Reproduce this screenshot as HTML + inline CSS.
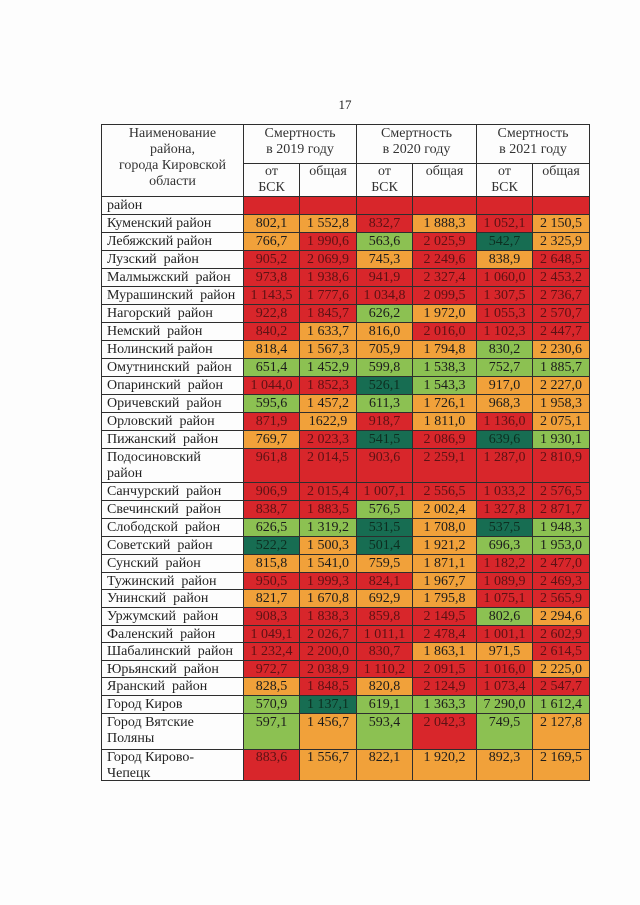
<!DOCTYPE html>
<html><head><meta charset="utf-8">
<style>
html,body{margin:0;padding:0;}
body{width:640px;height:905px;background:#fdfdfd;position:relative;overflow:hidden;font-family:"Liberation Serif","Noto Serif CJK SC",serif;}
.pn{position:absolute;left:0;width:690px;top:97px;text-align:center;font-size:13px;color:#222;}
.t{position:absolute;left:101px;top:124px;padding:1px;display:grid;gap:1px;background:#2e2e2e;
grid-template-columns:141px 55px 56px 55px 63px 55px 56px;
grid-template-rows:38px 32px repeat(14,17px) 33px repeat(5,17px) 16px 17px 17px 16px 17px 16px 17px 17px 35px 30px;}
.t>div{font-size:14px;line-height:17px;text-align:center;white-space:nowrap;color:#1c1c1c;overflow:hidden;}
.h{background:#fdfdfd;line-height:16px!important;padding-top:1px;color:#333!important;}
.h1{grid-row:span 2;}
.h2{grid-column:span 2;}
.s{background:#fdfdfd;line-height:16px!important;color:#333!important;}
.l{background:#fdfdfd;text-align:left!important;padding-left:5px;color:#222!important;}
.m{line-height:16px!important;padding-top:1px;white-space:normal!important;}
.r{background:#d8262b;color:#5c1214!important;}
.o{background:#f1a13a;}
.g{background:#8cc152;}
.d{background:#176d52;color:#0d2e20!important;}
</style></head><body>
<div class="pn">17</div>
<div class="t">
<div class="h h1">Наименование<br>района,<br>города Кировской<br>области</div>
<div class="h h2">Смертность<br>в 2019 году</div>
<div class="h h2">Смертность<br>в 2020 году</div>
<div class="h h2">Смертность<br>в 2021 году</div>
<div class="s">от<br>БСК</div><div class="s">общая</div>
<div class="s">от<br>БСК</div><div class="s">общая</div>
<div class="s">от<br>БСК</div><div class="s">общая</div>

<div class="l">район</div><div class="r"></div><div class="r"></div><div class="r"></div><div class="r"></div><div class="r"></div><div class="r"></div>
<div class="l">Куменский район</div><div class="o">802,1</div><div class="o">1 552,8</div><div class="r">832,7</div><div class="o">1 888,3</div><div class="r">1 052,1</div><div class="o">2 150,5</div>
<div class="l">Лебяжский район</div><div class="o">766,7</div><div class="r">1 990,6</div><div class="g">563,6</div><div class="r">2 025,9</div><div class="d">542,7</div><div class="o">2 325,9</div>
<div class="l">Лузский&nbsp; район</div><div class="r">905,2</div><div class="r">2 069,9</div><div class="o">745,3</div><div class="r">2 249,6</div><div class="o">838,9</div><div class="r">2 648,5</div>
<div class="l">Малмыжский&nbsp; район</div><div class="r">973,8</div><div class="r">1 938,6</div><div class="r">941,9</div><div class="r">2 327,4</div><div class="r">1 060,0</div><div class="r">2 453,2</div>
<div class="l">Мурашинский&nbsp; район</div><div class="r">1 143,5</div><div class="r">1 777,6</div><div class="r">1 034,8</div><div class="r">2 099,5</div><div class="r">1 307,5</div><div class="r">2 736,7</div>
<div class="l">Нагорский&nbsp; район</div><div class="r">922,8</div><div class="r">1 845,7</div><div class="g">626,2</div><div class="o">1 972,0</div><div class="r">1 055,3</div><div class="r">2 570,7</div>
<div class="l">Немский&nbsp; район</div><div class="r">840,2</div><div class="o">1 633,7</div><div class="o">816,0</div><div class="r">2 016,0</div><div class="r">1 102,3</div><div class="r">2 447,7</div>
<div class="l">Нолинский район</div><div class="o">818,4</div><div class="o">1 567,3</div><div class="o">705,9</div><div class="o">1 794,8</div><div class="g">830,2</div><div class="o">2 230,6</div>
<div class="l">Омутнинский&nbsp; район</div><div class="g">651,4</div><div class="g">1 452,9</div><div class="g">599,8</div><div class="g">1 538,3</div><div class="g">752,7</div><div class="g">1 885,7</div>
<div class="l">Опаринский&nbsp; район</div><div class="r">1 044,0</div><div class="r">1 852,3</div><div class="d">526,1</div><div class="g">1 543,3</div><div class="o">917,0</div><div class="o">2 227,0</div>
<div class="l">Оричевский&nbsp; район</div><div class="g">595,6</div><div class="o">1 457,2</div><div class="g">611,3</div><div class="o">1 726,1</div><div class="o">968,3</div><div class="o">1 958,3</div>
<div class="l">Орловский&nbsp; район</div><div class="r">871,9</div><div class="o">1622,9</div><div class="r">918,7</div><div class="o">1 811,0</div><div class="r">1 136,0</div><div class="o">2 075,1</div>
<div class="l">Пижанский&nbsp; район</div><div class="o">769,7</div><div class="r">2 023,3</div><div class="d">541,5</div><div class="r">2 086,9</div><div class="d">639,6</div><div class="g">1 930,1</div>
<div class="l m">Подосиновский<br>район</div><div class="r m">961,8</div><div class="r m">2 014,5</div><div class="r m">903,6</div><div class="r m">2 259,1</div><div class="r m">1 287,0</div><div class="r m">2 810,9</div>
<div class="l">Санчурский&nbsp; район</div><div class="r">906,9</div><div class="r">2 015,4</div><div class="r">1 007,1</div><div class="r">2 556,5</div><div class="r">1 033,2</div><div class="r">2 576,5</div>
<div class="l">Свечинский&nbsp; район</div><div class="r">838,7</div><div class="r">1 883,5</div><div class="g">576,5</div><div class="o">2 002,4</div><div class="r">1 327,8</div><div class="r">2 871,7</div>
<div class="l">Слободской&nbsp; район</div><div class="g">626,5</div><div class="g">1 319,2</div><div class="d">531,5</div><div class="o">1 708,0</div><div class="d">537,5</div><div class="g">1 948,3</div>
<div class="l">Советский&nbsp; район</div><div class="d">522,2</div><div class="o">1 500,3</div><div class="d">501,4</div><div class="o">1 921,2</div><div class="g">696,3</div><div class="g">1 953,0</div>
<div class="l">Сунский&nbsp; район</div><div class="o">815,8</div><div class="o">1 541,0</div><div class="o">759,5</div><div class="o">1 871,1</div><div class="r">1 182,2</div><div class="r">2 477,0</div>
<div class="l">Тужинский&nbsp; район</div><div class="r">950,5</div><div class="r">1 999,3</div><div class="r">824,1</div><div class="o">1 967,7</div><div class="r">1 089,9</div><div class="r">2 469,3</div>
<div class="l">Унинский&nbsp; район</div><div class="o">821,7</div><div class="o">1 670,8</div><div class="o">692,9</div><div class="o">1 795,8</div><div class="r">1 075,1</div><div class="r">2 565,9</div>
<div class="l">Уржумский&nbsp; район</div><div class="r">908,3</div><div class="r">1 838,3</div><div class="r">859,8</div><div class="r">2 149,5</div><div class="g">802,6</div><div class="o">2 294,6</div>
<div class="l">Фаленский&nbsp; район</div><div class="r">1 049,1</div><div class="r">2 026,7</div><div class="r">1 011,1</div><div class="r">2 478,4</div><div class="r">1 001,1</div><div class="r">2 602,9</div>
<div class="l">Шабалинский&nbsp; район</div><div class="r">1 232,4</div><div class="r">2 200,0</div><div class="r">830,7</div><div class="o">1 863,1</div><div class="o">971,5</div><div class="r">2 614,5</div>
<div class="l">Юрьянский&nbsp; район</div><div class="r">972,7</div><div class="r">2 038,9</div><div class="r">1 110,2</div><div class="r">2 091,5</div><div class="r">1 016,0</div><div class="o">2 225,0</div>
<div class="l">Яранский&nbsp; район</div><div class="o">828,5</div><div class="r">1 848,5</div><div class="o">820,8</div><div class="r">2 124,9</div><div class="r">1 073,4</div><div class="r">2 547,7</div>
<div class="l">Город Киров</div><div class="g">570,9</div><div class="d">1 137,1</div><div class="g">619,1</div><div class="g">1 363,3</div><div class="g">7 290,0</div><div class="g">1 612,4</div>
<div class="l m">Город Вятские<br>Поляны</div><div class="g m">597,1</div><div class="o m">1 456,7</div><div class="g m">593,4</div><div class="r m">2 042,3</div><div class="g m">749,5</div><div class="o m">2 127,8</div>
<div class="l m" style="padding-top:0">Город Кирово-<br>Чепецк</div><div class="r m" style="padding-top:0">883,6</div><div class="o m" style="padding-top:0">1 556,7</div><div class="o m" style="padding-top:0">822,1</div><div class="o m" style="padding-top:0">1 920,2</div><div class="o m" style="padding-top:0">892,3</div><div class="o m" style="padding-top:0">2 169,5</div>
</div>
</body></html>
